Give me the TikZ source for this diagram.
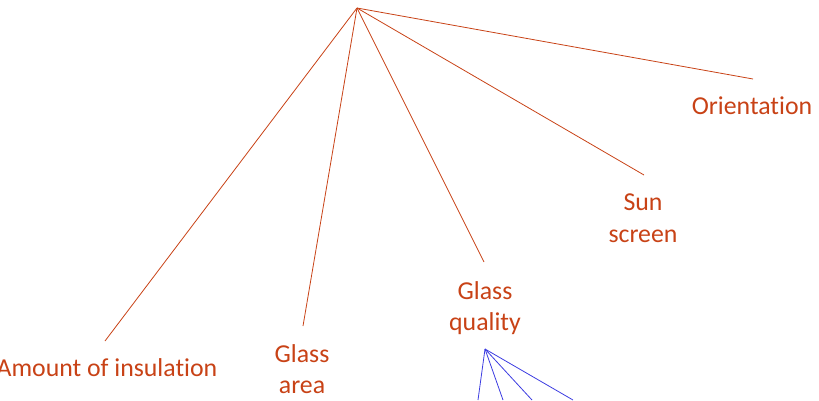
\documentclass[tikz,border=0pt]{standalone}
\usepackage{fontspec}
\setmainfont{Carlito}[Ligatures=NoCommon]
\definecolor{lbl}{RGB}{200,66,22}
\definecolor{bl}{RGB}{60,60,225}
\begin{document}
\begin{tikzpicture}[x=1pt,y=-1pt,
  lab/.style={text=lbl,font=\fontsize{25.8}{31.5}\selectfont,align=center,inner sep=0pt},
  edge/.style={draw=lbl,line width=0.8pt},
  bedge/.style={draw=bl,line width=0.8pt}]
\useasboundingbox (0,0) rectangle (819,400);
\clip (0,0) rectangle (819,400);
\coordinate (root) at (357,8);
\coordinate (eA) at (105,341);
\coordinate (eB) at (303,326);
\coordinate (eC) at (484,262);
\coordinate (eD) at (644,175);
\coordinate (eE) at (753,79);
\node[lab] (ins) at (107,368) {Amount of insulation};
\node[lab] (garea) at (302,369) {Glass\\area};
\node[lab] (gq) at (485,308) {Glass\\quality};
\node[lab] (sun) at (643,218) {Sun\\screen};
\node[lab] (ori) at (752,106) {Orientation};
\foreach \e in {eA,eB,eC,eD,eE} \draw[edge] (root) -- (\e);
\coordinate (broot) at (485,349);
\coordinate (b1) at (478,400);
\coordinate (b2) at (503,400);
\coordinate (b3) at (532,400);
\coordinate (b4) at (573,400);
\foreach \e in {b1,b2,b3,b4} \draw[bedge] (broot) -- (\e);
\end{tikzpicture}
\end{document}
